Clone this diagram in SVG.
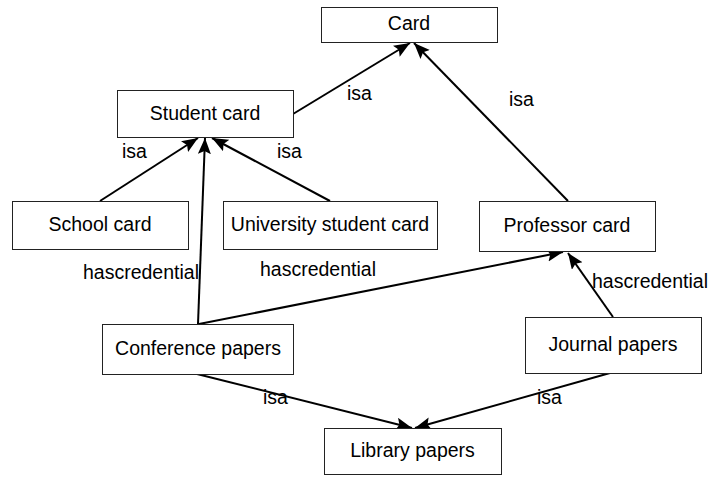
<svg xmlns="http://www.w3.org/2000/svg" width="710" height="477" viewBox="0 0 710 477">
<style>
.box{fill:#fff;stroke:#222;stroke-width:1}
.t{font-family:"Liberation Sans",Arial,sans-serif;font-size:19.5px;fill:#000;text-anchor:middle}
.l{font-family:"Liberation Sans",Arial,sans-serif;font-size:19.5px;fill:#000}
.c{stroke:#000;stroke-width:2;fill:none;marker-end:url(#ah)}
</style>
<defs>
<marker id="ah" markerUnits="userSpaceOnUse" markerWidth="18" markerHeight="14" refX="16" refY="6.5" orient="auto">
<path d="M0,0 L16,6.5 L0,13 L3,6.5 z" fill="#000"/>
</marker>
</defs>
<rect width="710" height="477" fill="#fff"/>
<g id="connectors">
<line class="c" x1="293" y1="114" x2="410" y2="43"/>
<line class="c" x1="568" y1="201" x2="414" y2="43"/>
<line class="c" x1="100" y1="201" x2="198" y2="138"/>
<line class="c" x1="198" y1="324" x2="205" y2="138"/>
<line class="c" x1="330" y1="201" x2="212" y2="138"/>
<line class="c" x1="199" y1="324" x2="563" y2="252"/>
<line class="c" x1="613" y1="317" x2="568" y2="253"/>
<line class="c" x1="197" y1="374" x2="412" y2="428"/>
<line class="c" x1="610" y1="373" x2="415" y2="428"/>
</g>
<g id="labels">
<text class="l" x="347" y="100">isa</text>
<text class="l" x="509" y="106">isa</text>
<text class="l" x="122" y="158">isa</text>
<text class="l" x="277" y="158">isa</text>
<text class="l" x="83" y="279">hascredential</text>
<text class="l" x="260" y="276">hascredential</text>
<text class="l" x="592" y="288">hascredential</text>
<text class="l" x="263" y="404">isa</text>
<text class="l" x="537" y="404">isa</text>
</g>
<g id="card"><rect class="box" x="321.5" y="7.5" width="176" height="35"/><text class="t" x="409" y="30">Card</text></g>
<g id="student-card"><rect class="box" x="117.5" y="90.5" width="176" height="47"/><text class="t" x="205" y="120">Student card</text></g>
<g id="school-card"><rect class="box" x="12.5" y="201.5" width="176" height="48"/><text class="t" x="100" y="231">School card</text></g>
<g id="university-student-card"><rect class="box" x="223.5" y="201.5" width="214" height="48"/><text class="t" x="330" y="231">University student card</text></g>
<g id="professor-card"><rect class="box" x="479.5" y="201.5" width="176" height="50"/><text class="t" x="567" y="232">Professor card</text></g>
<g id="conference-papers"><rect class="box" x="102.5" y="324.5" width="191" height="50"/><text class="t" x="198" y="355">Conference papers</text></g>
<g id="journal-papers"><rect class="box" x="525.5" y="317.5" width="176" height="56"/><text class="t" x="613" y="351">Journal papers</text></g>
<g id="library-papers"><rect class="box" x="324.5" y="428.5" width="177" height="46"/><text class="t" x="412.5" y="457">Library papers</text></g>
</svg>
